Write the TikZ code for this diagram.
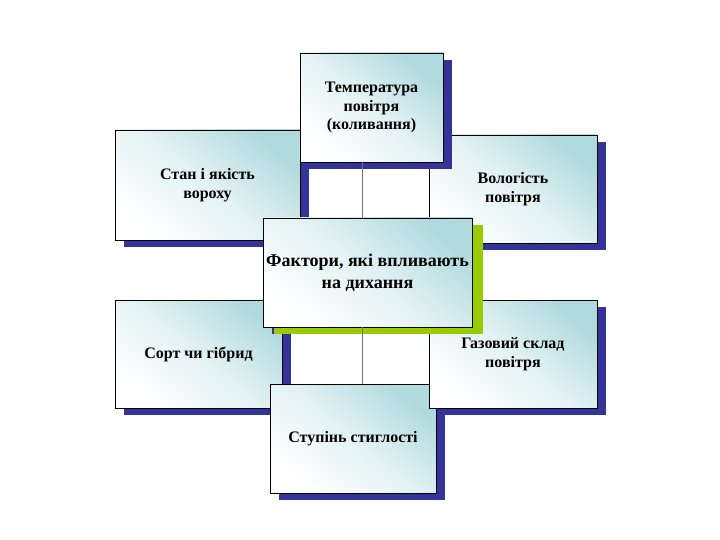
\documentclass[tikz,border=0pt]{standalone}
\usepackage{fontspec}
\setmainfont{Liberation Serif}
\usepackage{tikz}
\usetikzlibrary{shadows, calc}
\definecolor{boxcyan}{RGB}{176,218,222}
\definecolor{shadownavy}{RGB}{51,51,153}
\definecolor{shadowgreen}{RGB}{153,204,0}
\tikzstyle{link} = [draw=gray!90!black, line width=1.7pt]

\begin{document}
\begin{tikzpicture}[
	x=1pt, y=-1pt,
	factor/.style={rectangle, draw=black, line width=0.8pt, inner sep=2pt, align=center,
		top color=boxcyan, bottom color=white, middle color=boxcyan!35, shading angle=-40,
		font=\bfseries\fontsize{16}{18.5}\selectfont,
		drop shadow={shadow xshift=9pt, shadow yshift=-7pt, fill=shadownavy, opacity=1}},
	main/.style={factor, font=\bfseries\fontsize{18}{22}\selectfont,
		drop shadow={shadow xshift=11pt, shadow yshift=-7pt, fill=shadowgreen, opacity=1}}
]
\useasboundingbox (0,0) rectangle (720,540);

% Upper side boxes
\node[factor, minimum width=185pt, minimum height=110pt] (state) at (207.5,185) {Стан і якість\\вороху};
\node[factor, minimum width=168pt, minimum height=108pt] (humid) at (513,189) {Вологість\\повітря};

% Top box
\node[factor, minimum width=143pt, minimum height=109pt] (temp) at (371.5,107.5) {Температура\\повітря\\(коливання)};

% Lower boxes
\node[factor, minimum width=167pt, minimum height=108pt] (sort) at (198.5,354) {Сорт чи гібрид};
\node[factor, minimum width=166pt, minimum height=109pt] (ripe) at (353,438.5) {Ступінь стиглості};
\node[factor, minimum width=168pt, minimum height=108pt] (gas) at (513,354) {Газовий склад\\повітря};

% Central box
\node[main, minimum width=209pt, minimum height=109pt] (ctr) at (367.5,272.5) {Фактори, які впливають\\на дихання};

% Links to the central box
\draw[link] ([xshift=-5pt]ctr.north) -- ([xshift=-5pt]ctr.north |- temp.south);
\draw[link] ([xshift=-5pt]ctr.south) -- ([xshift=-5pt]ctr.south |- ripe.north);
\end{tikzpicture}
\end{document}
